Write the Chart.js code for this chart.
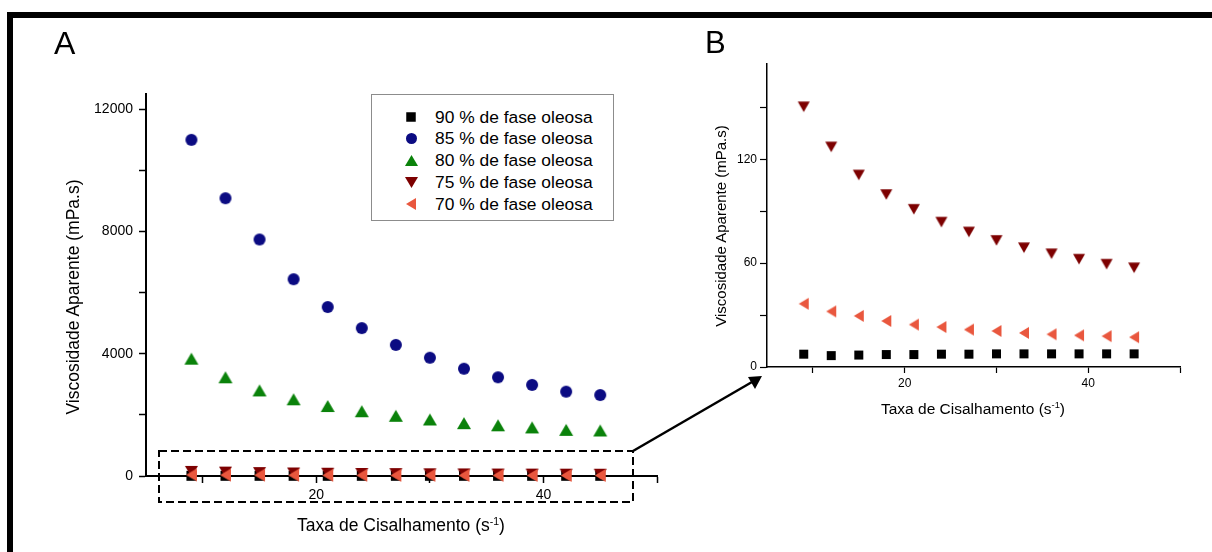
<!DOCTYPE html>
<html>
<head>
<meta charset="utf-8">
<title>Viscosidade aparente</title>
<script src="https://cdn.jsdelivr.net/npm/chart.js@4.4.1/dist/chart.umd.min.js"></script>
<style>
  html, body { margin: 0; padding: 0; background: #fff; }
  body { width: 1212px; height: 552px; position: relative; overflow: hidden;
         font-family: "Liberation Sans", Arial, sans-serif; color: #000; }
  .abs { position: absolute; }
  canvas.chart { position: absolute; top: 0; }
  #frameTop { left: 7px; top: 12px; width: 1205px; height: 6px; background: #000; }
  #frameLeft { left: 7px; top: 12px; width: 6px; height: 540px; background: #000; }
  .panel { line-height: 1; white-space: nowrap; }
  .title { white-space: nowrap; line-height: 1; }
  .vt { transform: translate(-50%, -50%) rotate(-90deg); }
  .ht { transform: translateX(-50%); }
  sup { font-size: 0.6em; line-height: 0; vertical-align: 0.62em; }
  #legend { left: 371px; top: 94px; width: 241px; height: 125px;
            border: 1px solid #8c8c8c; background: #fff; }
  .row { position: absolute; left: 0; height: 22px; width: 240px; }
  .row canvas { position: absolute; }
  .row span { position: absolute; left: 63px; top: 0; line-height: 22px; font-size: 17.4px; white-space: nowrap; }
  #overlay { position: absolute; left: 0; top: 0; pointer-events: none; }
</style>
</head>
<body>
<div id="frameTop" class="abs"></div>
<div id="frameLeft" class="abs"></div>

<canvas id="chartA" class="chart" width="700" height="552" style="left:0px"></canvas>
<canvas id="chartB" class="chart" width="512" height="552" style="left:700px"></canvas>

<div class="abs panel" style="left:54px; top:27px; font-size:32px;">A</div>
<div class="abs panel" style="left:705px; top:27px; font-size:31px;">B</div>

<div class="abs title vt" style="left:74px; top:297px; font-size:17.5px;">Viscosidade Aparente (mPa.s)</div>
<div class="abs title ht" style="left:401px; top:517px; font-size:17.5px;">Taxa de Cisalhamento (s<sup>-1</sup>)</div>
<div class="abs title vt" style="left:720px; top:226px; font-size:15px;">Viscosidade Aparente (mPa.s)</div>
<div class="abs title ht" style="left:973px; top:401px; font-size:15.5px;">Taxa de Cisalhamento (s<sup>-1</sup>)</div>

<div id="legend" class="abs"></div>

<svg id="overlay" width="1212" height="552">
  <!-- zoom window around the low-viscosity series -->
  <rect x="159" y="451" width="474" height="51" fill="none" stroke="#000" stroke-width="2" stroke-dasharray="8,4"/>
  <!-- arrow pointing to panel B -->
  <line x1="633" y1="451" x2="752" y2="382" stroke="#000" stroke-width="2.5"/>
  <polygon points="762,376 748,377 755,389" fill="#000"/>
</svg>

<script>
// Shear rate (s^-1)
const shearRate = [9, 12, 15, 18, 21, 24, 27, 30, 33, 36, 39, 42, 45];

// Apparent viscosity (mPa.s) for each oil-phase fraction
const oil90 = [7.4, 6.6, 6.9, 7.2, 7.2, 7.4, 7.4, 7.6, 7.6, 7.6, 7.6, 7.6, 7.6];
const oil85 = [11000, 9090, 7740, 6440, 5530, 4840, 4290, 3870, 3510, 3230, 2980, 2760, 2650];
const oil80 = [3840, 3230, 2800, 2510, 2290, 2120, 1970, 1850, 1730, 1660, 1590, 1510, 1490];
const oil75 = [150.3, 127.1, 110.9, 99.6, 91.1, 83.7, 78.0, 73.1, 68.9, 65.4, 62.3, 59.4, 57.3];
const oil70 = [36.5, 32.1, 29.5, 26.6, 24.5, 23.1, 21.6, 20.8, 19.7, 18.9, 18.3, 17.8, 17.2];

const seriesLabels = [
  '90 % de fase oleosa',
  '85 % de fase oleosa',
  '80 % de fase oleosa',
  '75 % de fase oleosa',
  '70 % de fase oleosa'
];

// Axis ticks
const xTicks = [10, 20, 30, 40, 50];
const xTickLabels = [20, 40];
const yTicksA = [0, 2000, 4000, 6000, 8000, 10000, 12000];
const yTickLabelsA = [0, 4000, 8000, 12000];
const yTicksB = [0, 30, 60, 90, 120, 150];
const yTickLabelsB = [0, 60, 120];

const FONT = '"Liberation Sans", Arial, sans-serif';

// Draws a filled marker shape into a small canvas, centred on its bounding box
function marker(shape, color, w, h) {
  const pad = 1;
  const c = document.createElement('canvas');
  c.width = Math.ceil(w) + 2 * pad;
  c.height = Math.ceil(h) + 2 * pad;
  const g = c.getContext('2d');
  const cx = c.width / 2, cy = c.height / 2;
  g.fillStyle = color;
  g.beginPath();
  switch (shape) {
    case 'square': g.rect(cx - w / 2, cy - h / 2, w, h); break;
    case 'circle': g.ellipse(cx, cy, w / 2, h / 2, 0, 0, Math.PI * 2); break;
    case 'up':
      g.moveTo(cx, cy - h / 2); g.lineTo(cx + w / 2, cy + h / 2); g.lineTo(cx - w / 2, cy + h / 2); break;
    case 'down':
      g.moveTo(cx - w / 2, cy - h / 2); g.lineTo(cx + w / 2, cy - h / 2); g.lineTo(cx, cy + h / 2); break;
    case 'left':
      g.moveTo(cx - w / 2, cy); g.lineTo(cx + w / 2, cy - h / 2); g.lineTo(cx + w / 2, cy + h / 2); break;
  }
  g.closePath();
  g.fill();
  return c;
}

const COLORS = ['#000000', '#0b0b82', '#0a820a', '#7d0000', '#e9573e'];
const SHAPES = ['square', 'circle', 'up', 'down', 'left'];
const VALUES = [oil90, oil85, oil80, oil75, oil70];

function points(vals) {
  return shearRate.map((x, i) => ({ x: x, y: vals[i] }));
}

function makeDataset(idx, style) {
  return {
    label: seriesLabels[idx],
    data: points(VALUES[idx]),
    pointStyle: style,
    pointRadius: 6,
    pointHoverRadius: 6,
    showLine: false,
    clip: false,
    order: 10 - idx,
    backgroundColor: COLORS[idx],
    borderColor: COLORS[idx]
  };
}

function axisX(cfg) {
  return {
    type: 'linear', min: 5, max: 50,
    afterBuildTicks: s => { s.ticks = xTicks.map(v => ({ value: v })); },
    afterFit: s => { s.height = cfg.height; },
    ticks: {
      callback: v => (xTickLabels.includes(v) ? String(v) : ''),
      color: '#000', font: { family: FONT, size: cfg.font }, padding: cfg.pad,
      maxRotation: 0, minRotation: 0, autoSkip: false
    },
    grid: { drawOnChartArea: false, drawTicks: true, tickLength: cfg.tick, tickColor: '#000', tickWidth: cfg.tw },
    border: { display: true, color: '#000', width: cfg.lw }
  };
}

function axisY(cfg) {
  return {
    type: 'linear', min: 0, max: cfg.max,
    afterBuildTicks: s => { s.ticks = cfg.ticks.map(v => ({ value: v })); },
    afterFit: s => { s.width = cfg.width; },
    ticks: {
      callback: v => (cfg.labels.includes(v) ? String(v) : ''),
      color: '#000', font: { family: FONT, size: cfg.font }, padding: cfg.pad, autoSkip: false
    },
    grid: { drawOnChartArea: false, drawTicks: true, tickLength: cfg.tick, tickColor: '#000', tickWidth: cfg.tw },
    border: { display: true, color: '#000', width: cfg.lw }
  };
}

const commonOptions = {
  responsive: false,
  animation: false,
  devicePixelRatio: 1,
  plugins: { legend: { display: false }, tooltip: { enabled: false } },
  events: []
};

// Panel A: all five emulsions
const stylesA = [
  marker('square', COLORS[0], 10, 10),
  marker('circle', COLORS[1], 12, 12),
  marker('up', COLORS[2], 14, 12),
  marker('down', COLORS[3], 13, 11),
  marker('left', COLORS[4], 11, 13)
];

const chartA = new Chart(document.getElementById('chartA'), {
  type: 'scatter',
  data: { datasets: [0, 1, 2, 3, 4].map(i => makeDataset(i, stylesA[i])) },
  options: Object.assign({}, commonOptions, {
    layout: { padding: { left: 0, top: 94, right: 43, bottom: 0 } },
    scales: {
      x: axisX({ height: 76, font: 14, pad: 4, tick: 7, tw: 1.5, lw: 2 }),
      y: axisY({ max: 12500, ticks: yTicksA, labels: yTickLabelsA, width: 146, font: 14, pad: 6, tick: 7, tw: 1.5, lw: 2 })
    }
  })
});

// Panel B: detail of the three low-viscosity emulsions
const stylesB = {
  0: marker('square', COLORS[0], 9, 9),
  3: marker('down', COLORS[3], 12, 10.5),
  4: marker('left', COLORS[4], 10, 12)
};

const chartB = new Chart(document.getElementById('chartB'), {
  type: 'scatter',
  data: { datasets: [0, 3, 4].map(i => makeDataset(i, stylesB[i])) },
  options: Object.assign({}, commonOptions, {
    layout: { padding: { left: 0, top: 64, right: 32, bottom: 0 } },
    scales: {
      x: axisX({ height: 185, font: 12, pad: 3, tick: 6, tw: 1.2, lw: 1.5 }),
      y: axisY({ max: 175, ticks: yTicksB, labels: yTickLabelsB, width: 67, font: 12, pad: 3, tick: 7, tw: 1.2, lw: 1.5 })
    }
  })
});

// Legend for panel A, built from its datasets
const legendStyles = [
  marker('square', COLORS[0], 9.5, 9.5),
  marker('circle', COLORS[1], 11, 11),
  marker('up', COLORS[2], 13, 11),
  marker('down', COLORS[3], 13, 11),
  marker('left', COLORS[4], 10, 12)
];
const legend = document.getElementById('legend');
chartA.data.datasets.forEach((ds, i) => {
  const row = document.createElement('div');
  row.className = 'row';
  row.style.top = (10.5 + i * 21.9) + 'px';
  const m = legendStyles[i];
  m.style.left = (39 - m.width / 2) + 'px';
  m.style.top = (11 - m.height / 2) + 'px';
  row.appendChild(m);
  const t = document.createElement('span');
  t.textContent = ds.label;
  row.appendChild(t);
  legend.appendChild(row);
});
</script>
</body>
</html>
